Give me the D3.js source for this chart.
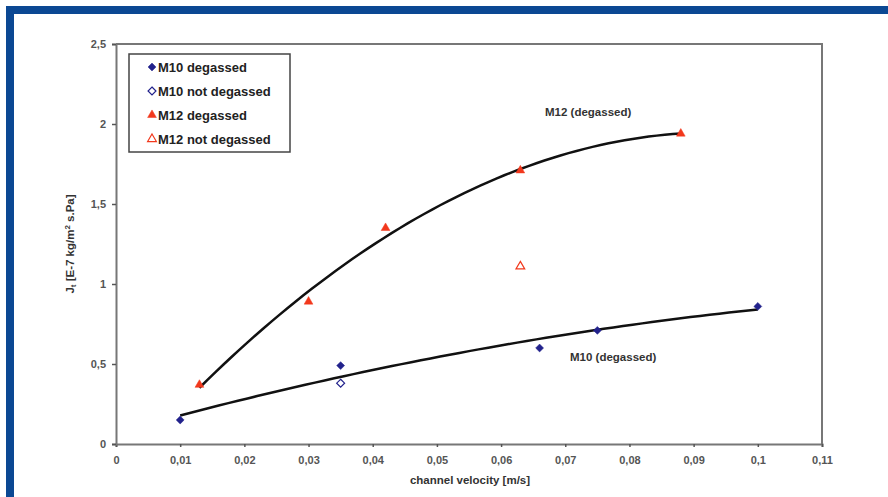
<!DOCTYPE html>
<html>
<head>
<meta charset="utf-8">
<script src="https://cdn.jsdelivr.net/npm/d3@7"></script>
<style>
  body { margin: 0; background: #fff; }
  svg { display: block; font-family: "Liberation Sans", Arial, sans-serif; }
  .tick text { font-size: 11px; font-weight: bold; fill: #555; }
  .legend text { font-size: 13px; font-weight: bold; fill: #222; }
  .note { font-size: 11.5px; font-weight: bold; fill: #333; }
</style>
</head>
<body>
<svg id="chart" width="888" height="497"></svg>
<script>
// x tick values (channel velocity, m/s)
const xTicks = [0, 0.01, 0.02, 0.03, 0.04, 0.05, 0.06, 0.07, 0.08, 0.09, 0.1, 0.11];
const yTicks = [0, 0.5, 1, 1.5, 2, 2.5];

// measured points [velocity, flux]
const m10Degassed = [[0.01, 0.15], [0.035, 0.49], [0.066, 0.60], [0.075, 0.71], [0.1, 0.86]];
const m10NotDegassed = [[0.035, 0.38]];
const m12Degassed = [[0.013, 0.37], [0.030, 0.89], [0.042, 1.35], [0.063, 1.71], [0.088, 1.94]];
const m12NotDegassed = [[0.063, 1.11]];

const legendLabels = ['M10 degassed', 'M10 not degassed', 'M12 degassed', 'M12 not degassed'];

const BLUE = '#22228c';
const RED = '#f2381c';

const svg = d3.select('#chart');

// blue frame
svg.append('rect').attr('x', 6).attr('y', 6).attr('width', 890).attr('height', 8).attr('fill', '#0b4893');
svg.append('rect').attr('x', 6).attr('y', 6).attr('width', 8).attr('height', 500).attr('fill', '#0b4893');

const x = d3.scaleLinear().domain([0, 0.11]).range([116, 822]);
const y = d3.scaleLinear().domain([0, 2.5]).range([444, 44]);

const fmt = d => String(d).replace('.', ',');

// plot border (top & right)
svg.append('path')
  .attr('d', `M${x(0)},${y(2.5)}H${x(0.11)}V${y(0)}`)
  .attr('fill', 'none').attr('stroke', '#777').attr('stroke-width', 2);

const xAxis = svg.append('g')
  .attr('transform', `translate(0,${y(0)})`)
  .call(d3.axisBottom(x).tickValues(xTicks).tickFormat(fmt).tickSize(3).tickPadding(9));
const yAxis = svg.append('g')
  .attr('transform', `translate(${x(0)},0)`)
  .call(d3.axisLeft(y).tickValues(yTicks).tickFormat(fmt).tickSize(4).tickPadding(6));
[xAxis, yAxis].forEach(a => {
  a.select('.domain').attr('stroke', '#777').attr('stroke-width', 2);
  a.selectAll('.tick line').attr('stroke', '#555').attr('stroke-width', 1.5);
});

// axis titles
svg.append('text').attr('class', 'note')
  .attr('x', 470).attr('y', 484).attr('text-anchor', 'middle')
  .text('channel velocity [m/s]');
svg.append('text').attr('class', 'note')
  .attr('transform', 'translate(74,244) rotate(-90)')
  .attr('text-anchor', 'middle')
  .html('J<tspan dy="2" font-size="8">t</tspan><tspan dy="-2"> [E-7 kg/m</tspan><tspan dy="-4" font-size="8">2</tspan><tspan dy="4"> s.Pa]</tspan>');

// trend lines: least squares 2nd order polynomial, like the spreadsheet trendlines
function polyFit2(pts) {
  let s = [0, 0, 0, 0, 0], t = [0, 0, 0];
  pts.forEach(([px, py]) => {
    for (let k = 0; k < 5; k++) s[k] += Math.pow(px, k);
    for (let k = 0; k < 3; k++) t[k] += py * Math.pow(px, k);
  });
  const M = [[s[0], s[1], s[2], t[0]], [s[1], s[2], s[3], t[1]], [s[2], s[3], s[4], t[2]]];
  for (let i = 0; i < 3; i++) {
    for (let j = i + 1; j < 3; j++) {
      const f = M[j][i] / M[i][i];
      for (let k = i; k < 4; k++) M[j][k] -= f * M[i][k];
    }
  }
  const c = [0, 0, 0];
  for (let i = 2; i >= 0; i--) {
    let v = M[i][3];
    for (let k = i + 1; k < 3; k++) v -= M[i][k] * c[k];
    c[i] = v / M[i][i];
  }
  return v => c[0] + c[1] * v + c[2] * v * v;
}

const line = d3.line().x(d => x(d[0])).y(d => y(d[1]));
function drawTrend(data) {
  const fn = polyFit2(data);
  const [x0, x1] = d3.extent(data, d => d[0]);
  const pts = d3.range(0, 61).map(i => { const v = x0 + (x1 - x0) * i / 60; return [v, fn(v)]; });
  svg.append('path').attr('d', line(pts)).attr('fill', 'none').attr('stroke', '#111').attr('stroke-width', 2.5);
}
drawTrend(m12Degassed);
drawTrend(m10Degassed);

// markers
const diamond = d3.symbol().type(d3.symbolDiamond2).size(40);
const triangle = d3.symbol().type(d3.symbolTriangle2).size(55);
function drawPoints(data, sym, color, filled) {
  svg.append('g').selectAll('path').data(data).join('path')
    .attr('transform', d => `translate(${x(d[0])},${y(d[1])})`)
    .attr('d', sym)
    .attr('fill', filled ? color : '#fff')
    .attr('stroke', color)
    .attr('stroke-width', filled ? 0.5 : 1.2);
}
drawPoints(m10Degassed, diamond, BLUE, true);
drawPoints(m10NotDegassed, diamond, BLUE, false);
drawPoints(m12Degassed, triangle, RED, true);
drawPoints(m12NotDegassed, triangle, RED, false);

// annotations
svg.append('text').attr('class', 'note').attr('x', 545).attr('y', 116).text('M12 (degassed)');
svg.append('text').attr('class', 'note').attr('x', 570).attr('y', 361).text('M10 (degassed)');

// legend
const legend = svg.append('g').attr('class', 'legend');
legend.append('rect').attr('x', 129).attr('y', 54).attr('width', 161).attr('height', 98)
  .attr('fill', '#fff').attr('stroke', '#444').attr('stroke-width', 1.5);
const legendStyle = [
  { sym: diamond, color: BLUE, filled: true },
  { sym: diamond, color: BLUE, filled: false },
  { sym: triangle, color: RED, filled: true },
  { sym: triangle, color: RED, filled: false }
];
legendLabels.forEach((lab, i) => {
  const cy = 67 + i * 24;
  const s = legendStyle[i];
  legend.append('path').attr('transform', `translate(152,${cy})`).attr('d', s.sym)
    .attr('fill', s.filled ? s.color : '#fff').attr('stroke', s.color).attr('stroke-width', s.filled ? 0.5 : 1.2);
  legend.append('text').attr('x', 158).attr('y', cy + 5).text(lab);
});
</script>
</body>
</html>
